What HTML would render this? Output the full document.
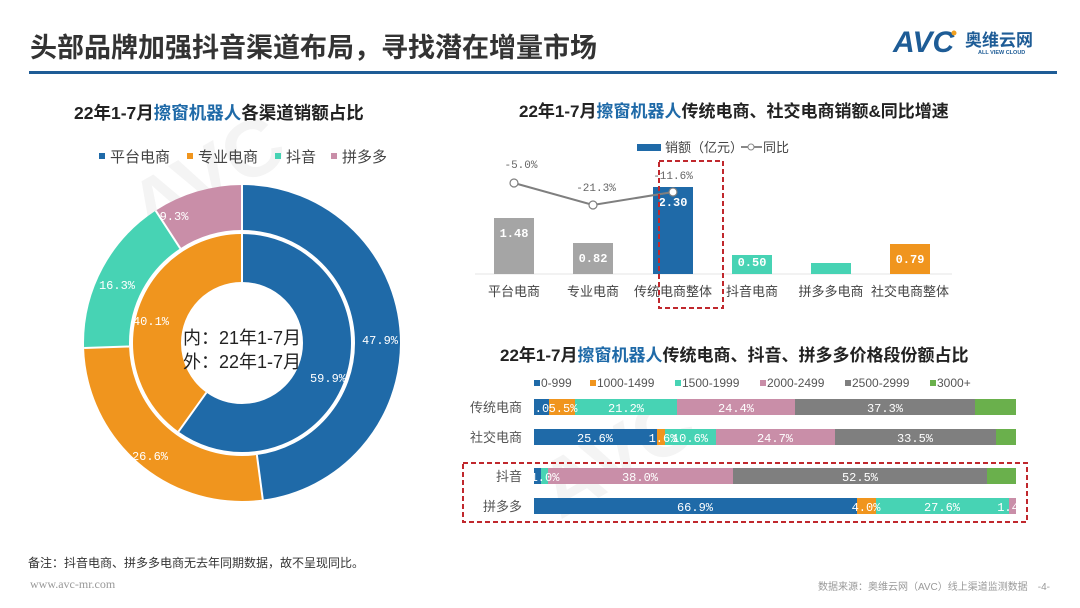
<!DOCTYPE html>
<html><head><meta charset="utf-8"><style>
html,body{margin:0;padding:0;background:#fff;}
svg{display:block;font-family:"Liberation Sans","Noto Sans CJK SC",sans-serif;}
</style></head><body>
<svg width="1080" height="608" viewBox="0 0 1080 608" xmlns="http://www.w3.org/2000/svg">
<rect width="1080" height="608" fill="#fff"/>
<!-- watermark -->
<g fill="#f4f4f4" font-weight="bold" font-family="Liberation Sans, sans-serif">
<text x="150" y="240" font-size="80" transform="rotate(-30 150 240)">AVC</text>
<text x="560" y="520" font-size="80" transform="rotate(-30 560 520)">AVC</text>
</g>
<!-- header -->
<text x="30" y="57" font-size="27" fill="#333" font-weight="bold">头部品牌加强抖音渠道布局，寻找潜在增量市场</text>
<rect x="29" y="71" width="1028" height="3" fill="#1e5c96"/>
<text x="893" y="52" font-size="30" font-weight="bold" fill="#1e5c96" font-family="Liberation Sans, sans-serif" font-style="italic">AVC</text>
<circle cx="954" cy="33" r="2.5" fill="#f0a020"/>
<text x="965" y="46" font-size="17" font-weight="bold" fill="#1e5c96">奥维云网</text>
<text x="978" y="54" font-size="5.5" fill="#1e5c96" font-weight="bold">ALL VIEW CLOUD</text>

<!-- donut chart -->
<text x="74" y="119" font-size="17.5" font-weight="bold" fill="#222">22年1-7月<tspan fill="#1f6aa8">擦窗机器人</tspan>各渠道销额占比</text>
<g font-size="15" fill="#444">
<rect x="99" y="153" width="6" height="6" fill="#1f6aa8"/><text x="110" y="162">平台电商</text>
<rect x="187" y="153" width="6" height="6" fill="#f0951e"/><text x="198" y="162">专业电商</text>
<rect x="275" y="153" width="6" height="6" fill="#47d3b4"/><text x="286" y="162">抖音</text>
<rect x="331" y="153" width="6" height="6" fill="#c98ea8"/><text x="342" y="162">拼多多</text>
</g>
<g transform="translate(242 343) rotate(-90)" fill="none">
<circle r="135.5" stroke-width="45" stroke="#1f6aa8" pathLength="100" stroke-dasharray="47.9 52.1" stroke-dashoffset="0"/>
<circle r="135.5" stroke-width="45" stroke="#f0951e" pathLength="100" stroke-dasharray="26.6 73.4" stroke-dashoffset="-47.9"/>
<circle r="135.5" stroke-width="45" stroke="#47d3b4" pathLength="100" stroke-dasharray="16.3 83.7" stroke-dashoffset="-74.5"/>
<circle r="135.5" stroke-width="45" stroke="#c98ea8" pathLength="100" stroke-dasharray="9.2 90.8" stroke-dashoffset="-90.8"/>
<circle r="85" stroke-width="48" stroke="#1f6aa8" pathLength="100" stroke-dasharray="59.9 40.1" stroke-dashoffset="0"/>
<circle r="85" stroke-width="48" stroke="#f0951e" pathLength="100" stroke-dasharray="40.1 59.9" stroke-dashoffset="-59.9"/>
<circle r="111" stroke-width="3" stroke="#fff"/>
</g>
<g stroke="#fff" stroke-width="2">
<line x1="242" y1="230" x2="242" y2="184"/>
<line x1="256.9" y1="455" x2="262.8" y2="499.6"/>
<line x1="129.1" y1="346.5" x2="84.1" y2="348"/>
<line x1="180.3" y1="248.4" x2="155.7" y2="210.7"/>
<line x1="242" y1="282" x2="242" y2="234"/>
<line x1="206.4" y1="392.6" x2="178.5" y2="431.6"/>
</g>
<g font-size="12" fill="#fff" text-anchor="middle" font-family="Liberation Mono, monospace">
<text x="380" y="344">47.9%</text>
<text x="150" y="460">26.6%</text>
<text x="117" y="289">16.3%</text>
<text x="174" y="220">9.3%</text>
<text x="151" y="325">40.1%</text>
<text x="328" y="382">59.9%</text>
</g>
<g font-size="18" fill="#222" text-anchor="middle">
<text x="242" y="344">内：21年1-7月</text>
<text x="242" y="368">外：22年1-7月</text>
</g>

<!-- bar chart -->
<text x="519" y="117" font-size="17" font-weight="bold" fill="#222">22年1-7月<tspan fill="#1f6aa8">擦窗机器人</tspan>传统电商、社交电商销额&amp;同比增速</text>
<rect x="637" y="144" width="24" height="7" fill="#1f6aa8"/>
<text x="665" y="152" font-size="13" fill="#444">销额（亿元）</text>
<line x1="741" y1="147" x2="762" y2="147" stroke="#888" stroke-width="2"/>
<circle cx="751" cy="147" r="3" fill="#fff" stroke="#888"/>
<text x="763" y="152" font-size="13" fill="#444">同比</text>
<line x1="475" y1="274" x2="952" y2="274" stroke="#e6e6e6"/>
<rect x="494" y="218" width="40" height="56" fill="#a5a5a5"/>
<rect x="573" y="243" width="40" height="31" fill="#a5a5a5"/>
<rect x="653" y="187" width="40" height="87" fill="#1f6aa8"/>
<rect x="732" y="255" width="40" height="19" fill="#47d3b4"/>
<rect x="811" y="263" width="40" height="11" fill="#47d3b4"/>
<rect x="890" y="244" width="40" height="30" fill="#f0951e"/>
<g font-size="12" fill="#fff" text-anchor="middle" font-weight="bold" font-family="Liberation Mono, monospace">
<text x="514" y="237">1.48</text>
<text x="593" y="262">0.82</text>
<text x="673" y="206">2.30</text>
<text x="752" y="266">0.50</text>
<text x="910" y="263">0.79</text>
</g>
<polyline points="514,183 593,205 673,192" fill="none" stroke="#7f7f7f" stroke-width="2"/>
<g fill="#fff" stroke="#7f7f7f" stroke-width="1.2"><circle cx="514" cy="183" r="4"/><circle cx="593" cy="205" r="4"/><circle cx="673" cy="192" r="4"/></g>
<g font-size="11" fill="#666" text-anchor="middle" font-family="Liberation Mono, monospace">
<text x="521" y="168">-5.0%</text>
<text x="596" y="191">-21.3%</text>
<text x="673" y="179">-11.6%</text>
</g>
<g font-size="13" fill="#444" text-anchor="middle">
<text x="514" y="296">平台电商</text>
<text x="593" y="296">专业电商</text>
<text x="673" y="296">传统电商整体</text>
<text x="752" y="296">抖音电商</text>
<text x="831" y="296">拼多多电商</text>
<text x="910" y="296">社交电商整体</text>
</g>
<rect x="659" y="161" width="64" height="147" fill="none" stroke="#c0282d" stroke-width="2" stroke-dasharray="5 3"/>

<!-- stacked bars -->
<text x="500" y="361" font-size="17" font-weight="bold" fill="#222">22年1-7月<tspan fill="#1f6aa8">擦窗机器人</tspan>传统电商、抖音、拼多多价格段份额占比</text>
<g font-size="12" fill="#555">
<rect x="534" y="380" width="6" height="6" fill="#1f6aa8"/><text x="541" y="387">0-999</text>
<rect x="590" y="380" width="6" height="6" fill="#f0951e"/><text x="597" y="387">1000-1499</text>
<rect x="675" y="380" width="6" height="6" fill="#47d3b4"/><text x="682" y="387">1500-1999</text>
<rect x="760" y="380" width="6" height="6" fill="#c98ea8"/><text x="767" y="387">2000-2499</text>
<rect x="845" y="380" width="6" height="6" fill="#7f7f7f"/><text x="852" y="387">2500-2999</text>
<rect x="930" y="380" width="6" height="6" fill="#6ab04c"/><text x="937" y="387">3000+</text>
</g>
<g font-size="13" fill="#555" text-anchor="end">
<text x="522" y="412">传统电商</text>
<text x="522" y="442">社交电商</text>
<text x="522" y="481">抖音</text>
<text x="522" y="511">拼多多</text>
</g>
<g>
<rect x="534" y="399" width="15" height="16" fill="#1f6aa8"/>
<rect x="549" y="399" width="26" height="16" fill="#f0951e"/>
<rect x="575" y="399" width="102" height="16" fill="#47d3b4"/>
<rect x="677" y="399" width="118" height="16" fill="#c98ea8"/>
<rect x="795" y="399" width="180" height="16" fill="#7f7f7f"/>
<rect x="975" y="399" width="41" height="16" fill="#6ab04c"/>
<rect x="534" y="429" width="123" height="16" fill="#1f6aa8"/>
<rect x="657" y="429" width="8" height="16" fill="#f0951e"/>
<rect x="665" y="429" width="51" height="16" fill="#47d3b4"/>
<rect x="716" y="429" width="119" height="16" fill="#c98ea8"/>
<rect x="835" y="429" width="161" height="16" fill="#7f7f7f"/>
<rect x="996" y="429" width="20" height="16" fill="#6ab04c"/>
<rect x="534" y="468" width="7" height="16" fill="#1f6aa8"/>
<rect x="541" y="468" width="7" height="16" fill="#47d3b4"/>
<rect x="548" y="468" width="185" height="16" fill="#c98ea8"/>
<rect x="733" y="468" width="254" height="16" fill="#7f7f7f"/>
<rect x="987" y="468" width="29" height="16" fill="#6ab04c"/>
<rect x="534" y="498" width="323" height="16" fill="#1f6aa8"/>
<rect x="857" y="498" width="19" height="16" fill="#f0951e"/>
<rect x="876" y="498" width="133" height="16" fill="#47d3b4"/>
<rect x="1009" y="498" width="7" height="16" fill="#c98ea8"/>
</g>
<g font-size="12" fill="#fff" text-anchor="middle" font-family="Liberation Mono, monospace">
<text x="542" y="412">.0</text><text x="563" y="412">5.5%</text><text x="626" y="412">21.2%</text><text x="736" y="412">24.4%</text><text x="885" y="412">37.3%</text>
<text x="595" y="442">25.6%</text><text x="663" y="442">1.6%</text><text x="690" y="442">10.6%</text><text x="775" y="442">24.7%</text><text x="915" y="442">33.5%</text>
<text x="545" y="481">1.0%</text><text x="640" y="481">38.0%</text><text x="860" y="481">52.5%</text>
<text x="695" y="511">66.9%</text><text x="866" y="511">4.0%</text><text x="942" y="511">27.6%</text><text x="1008" y="511">1.4</text>
</g>
<rect x="463" y="463" width="564" height="59" fill="none" stroke="#c0282d" stroke-width="2" stroke-dasharray="5 3"/>

<!-- footer -->
<text x="28" y="567" font-size="12" fill="#333">备注：抖音电商、拼多多电商无去年同期数据，故不呈现同比。</text>
<text x="30" y="588" font-size="12" fill="#999" font-family="Liberation Serif, serif">www.avc-mr.com</text>
<text x="1050" y="590" font-size="10" fill="#999" text-anchor="end">数据来源：奥维云网（AVC）线上渠道监测数据　-4-</text>
</svg>
</body></html>
